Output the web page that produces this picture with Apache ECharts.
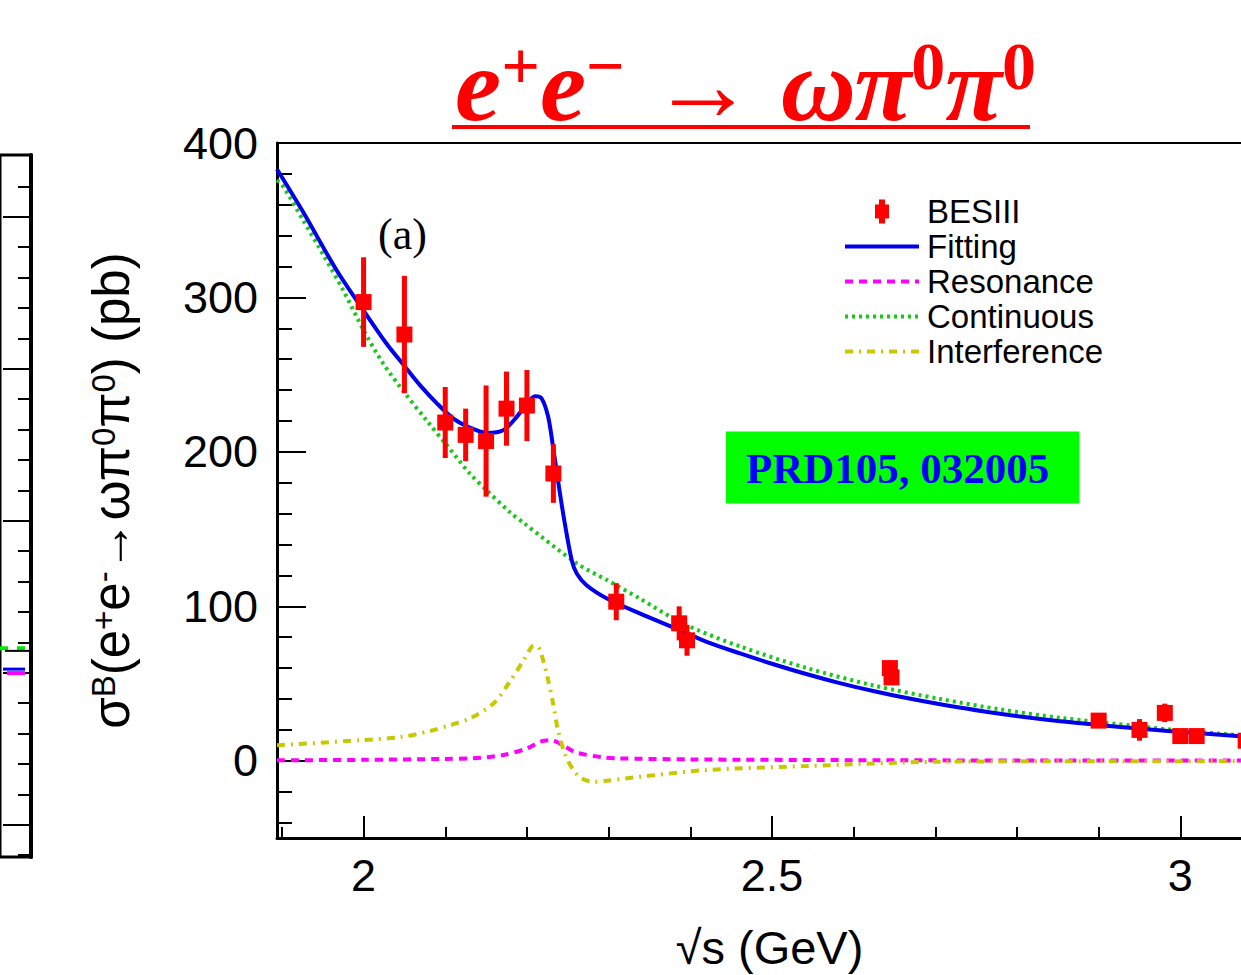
<!DOCTYPE html>
<html>
<head>
<meta charset="utf-8">
<script src="https://cdn.jsdelivr.net/npm/echarts@6/dist/echarts.min.js"></script>
<style>
html,body{margin:0;padding:0;background:#fff;overflow:hidden;}
#chart{width:1241px;height:975px;}
</style>
</head>
<body>
<div id="chart"></div>
<script>
// ---- data ----
const besX   = [2.0, 2.05, 2.1, 2.125, 2.15, 2.175, 2.2, 2.2324, 2.3094, 2.3864, 2.396, 2.6444, 2.6464, 2.9, 2.95, 2.981, 3.0, 3.02, 3.08];
const besY   = [297, 276, 219, 211, 207, 228, 230, 186, 103, 89, 78, 60, 54, 26, 20, 31, 16, 16, 13];
const besErr = [29, 38, 23, 17, 36, 24, 23, 19, 12, 11, 10, 5, 5, 2, 7, 6, 2, 2, 3];

const fitX = [1.894, 1.926, 1.967, 2.002, 2.028, 2.051, 2.069, 2.090, 2.110, 2.130, 2.151, 2.171, 2.1875, 2.200, 2.210, 2.218, 2.226, 2.232, 2.238, 2.245, 2.2548, 2.261, 2.273, 2.298, 2.338, 2.387, 2.420, 2.461, 2.502, 2.543, 2.583, 2.624, 2.665, 2.706, 2.779, 2.853, 2.948, 3.000, 3.073, 3.100];
const fitY = [383, 355.3, 317.6, 290, 270.2, 255, 243.2, 231.3, 221.6, 215.8, 212.3, 214, 222.7, 231.3, 236, 234.6, 222.7, 203.2, 181.7, 158, 130, 121.3, 113.7, 105.1, 95.4, 84.6, 77, 69.5, 62.5, 56.0, 50.3, 45.2, 40.6, 36.6, 30.4, 25.6, 20.9, 18.7, 15.9, 14.9];

const contX = [1.894, 1.902, 1.926, 1.951, 1.975, 2.000, 2.024, 2.051, 2.077, 2.102, 2.130, 2.151, 2.179, 2.196, 2.261, 2.298, 2.338, 2.391, 2.461, 2.543, 2.624, 2.706, 2.780, 2.853, 2.950, 3.000, 3.073, 3.100];
const contY = [376, 371.5, 350, 327.3, 304.7, 278.8, 257.2, 237.8, 220.5, 204.3, 186, 175, 161, 154, 127.8, 117, 105.1, 88.9, 74.0, 60.0, 48.8, 40.0, 33.2, 27.8, 22.3, 19.6, 16.6, 15.6];

const resX = [1.894, 2.0, 2.1, 2.134, 2.171, 2.2, 2.216, 2.230, 2.247, 2.261, 2.294, 2.31, 2.4, 2.6, 2.8, 3.1];
const resY = [0.3, 0.6, 1.2, 1.6, 3.7, 8, 12.3, 13.4, 9.1, 5.2, 2.2, 1.6, 0.9, 0.4, 0.2, 0.1];

const intX = [1.894, 1.998, 2.045, 2.081, 2.106, 2.130, 2.159, 2.179, 2.196, 2.206, 2.211, 2.216, 2.225, 2.232, 2.238, 2.247, 2.257, 2.267, 2.283, 2.298, 2.338, 2.420, 2.543, 2.706, 2.900, 3.100];
const intY = [10, 13.4, 15.3, 19.2, 23.1, 27.4, 37.1, 51.1, 65.2, 73.8, 74.5, 71.7, 54.4, 37.2, 19.9, 3.7, -6, -11.4, -13.6, -12.9, -10.4, -6, -3.4, -0.6, -0.3, -0.2];

// tick values
const xMajorTicks = [2, 2.5, 3];
const xMinorTicks = [1.9, 2.1, 2.2, 2.3, 2.4, 2.6, 2.7, 2.8, 2.9, 3.1];
const yMajorTicks = [0, 100, 200, 300, 400];
const yMinorTicks = [-40, -20, 20, 40, 60, 80, 120, 140, 160, 180, 220, 240, 260, 280, 320, 340, 360, 380];

// partially visible neighbouring panel on the left edge
const sideMajorTicks = [0, 5, 10, 15, 20];
const sideMinorTicks = [-1, 1, 2, 3, 4, 6, 7, 8, 9, 11, 12, 13, 14, 16, 17, 18, 19, 21];
const sideGreenX = [0, 25], sideGreenY = [5.81, 5.81];
const sideBlackX = [5, 30], sideBlackY = [5.72, 5.72];
const sideBlueX = [3, 25], sideBlueY = [5.12, 5.12];
const sideMagX = [7, 25], sideMagY = [4.99, 4.99];

const zip = (a, b) => a.map((v, i) => [v, b[i]]);

const chart = echarts.init(document.getElementById('chart'), null, {renderer: 'svg'});
const SANS = 'Liberation Sans, Arial, Helvetica, sans-serif';
const SERIF = 'Liberation Serif, Times New Roman, serif';

const option = {
  backgroundColor: '#fff',
  animation: false,
  title: [
    {
      text: '{i|e}{s|+}{i|e}{s|−}{i| → ωπ}{s|0}{i|π}{s|0}',
      left: 450, top: 27,
      textStyle: {
        rich: {
          i: {fontFamily: SERIF, fontStyle: 'italic', fontWeight: 'bold', fontSize: 104, color: '#ff0000', verticalAlign: 'bottom', lineHeight: 104},
          s: {fontFamily: SERIF, fontWeight: 'bold', fontSize: 68, color: '#ff0000', verticalAlign: 'top', lineHeight: 68}
        }
      }
    },
    {
      text: 'PRD105, 032005',
      left: 726, top: 432,
      backgroundColor: '#00ff00',
      padding: [15, 30, 14, 20],
      textStyle: {fontFamily: SERIF, fontWeight: 'bold', fontSize: 43, color: '#0000ff', lineHeight: 42}
    }
  ],
  graphic: [
    {type: 'rect', left: 452, top: 125, shape: {width: 578, height: 4}, style: {fill: '#ff0000'}},
    {type: 'text', left: 378, top: 212, style: {text: '(a)', font: '44px ' + SERIF, fill: '#000'}}
  ],
  legend: {
    orient: 'vertical', left: 838, top: 190,
    itemWidth: 74, itemHeight: 24, itemGap: 2,
    textStyle: {fontFamily: SANS, fontSize: 33, color: '#000', lineHeight: 33, padding: [0, 0, 0, 3]},
    lineStyle: {width: 4},
    itemStyle: {opacity: 0},
    data: [
      {name: 'BESIII', icon: 'path://M4,0H10V5H14V19H10V24H4V19H0V5H4Z', itemStyle: {opacity: 1, color: '#ff0000'}},
      'Fitting', 'Resonance', 'Continuous', 'Interference'
    ]
  },
  grid: [
    {left: 277, top: 143, width: 985, height: 695, outerBoundsMode: 'none', show: true, borderColor: '#000', borderWidth: 2, backgroundColor: 'transparent'},
    {left: 0, top: 155, width: 31, height: 702, outerBoundsMode: 'none', show: true, borderColor: '#000', borderWidth: 3, backgroundColor: 'transparent'}
  ],
  xAxis: [
    {
      type: 'value', gridIndex: 0, min: 1.894, max: 3.1, position: 'bottom',
      name: '√s (GeV)', nameLocation: 'middle', nameGap: 86,
      nameTextStyle: {fontFamily: SANS, fontSize: 47, color: '#000'},
      axisLine: {show: true, onZero: false, lineStyle: {color: '#000', width: 3}},
      axisTick: {show: true, inside: true, length: 22, customValues: xMajorTicks, lineStyle: {color: '#000', width: 2}},
      axisLabel: {show: true, customValues: xMajorTicks, margin: 15, fontFamily: SANS, fontSize: 45, color: '#000', formatter: v => String(v)},
      splitLine: {show: false}
    },
    {
      type: 'value', gridIndex: 0, min: 1.894, max: 3.1, position: 'bottom',
      axisLine: {show: false, onZero: false},
      axisTick: {show: true, inside: true, length: 11, customValues: xMinorTicks, lineStyle: {color: '#000', width: 2}},
      axisLabel: {show: false},
      splitLine: {show: false}
    },
    {type: 'value', gridIndex: 1, min: 0, max: 31, show: false}
  ],
  yAxis: [
    {
      type: 'value', gridIndex: 0, min: -50, max: 400, position: 'left',
      name: '{m|σ}{s|B}{m|(e}{s|+}{m|e}{s|-}{m|→ωπ}{s|0}{m|π}{s|0}{m|) (pb)}',
      nameLocation: 'middle', nameRotate: 90, nameGap: 140,
      nameTextStyle: {
        rich: {
          m: {fontFamily: SANS, fontSize: 51, color: '#000', verticalAlign: 'bottom', lineHeight: 50},
          s: {fontFamily: SANS, fontSize: 33, color: '#000', verticalAlign: 'top', lineHeight: 33}
        }
      },
      axisLine: {show: true, onZero: false, lineStyle: {color: '#000', width: 3}},
      axisTick: {show: true, inside: true, length: 29, customValues: yMajorTicks, lineStyle: {color: '#000', width: 2}},
      axisLabel: {show: true, customValues: yMajorTicks, margin: 19, fontFamily: SANS, fontSize: 45, color: '#000'},
      splitLine: {show: false}
    },
    {
      type: 'value', gridIndex: 0, min: -50, max: 400, position: 'left',
      axisLine: {show: false, onZero: false},
      axisTick: {show: true, inside: true, length: 15, customValues: yMinorTicks, lineStyle: {color: '#000', width: 2}},
      axisLabel: {show: false},
      splitLine: {show: false}
    },
    {
      type: 'value', gridIndex: 1, min: -1.06, max: 22.03, position: 'right',
      axisLine: {show: true, onZero: false, lineStyle: {color: '#000', width: 4}},
      axisTick: {show: true, inside: true, length: 28, customValues: sideMajorTicks, lineStyle: {color: '#000', width: 2}},
      axisLabel: {show: false}, splitLine: {show: false}
    },
    {
      type: 'value', gridIndex: 1, min: -1.06, max: 22.03, position: 'right',
      axisLine: {show: false, onZero: false},
      axisTick: {show: true, inside: true, length: 13, customValues: sideMinorTicks, lineStyle: {color: '#000', width: 2}},
      axisLabel: {show: false}, splitLine: {show: false}
    }
  ],
  series: [
    {name: 'Continuous', type: 'line', xAxisIndex: 0, yAxisIndex: 0, data: zip(contX, contY), symbol: 'none', smooth: 0.3, z: 2,
     lineStyle: {color: '#19c819', width: 4, type: [3, 4]}, itemStyle: {color: '#19c819'}},
    {name: 'Resonance', type: 'line', xAxisIndex: 0, yAxisIndex: 0, data: zip(resX, resY), symbol: 'none', smooth: 0.3, z: 2,
     lineStyle: {color: '#ff00ff', width: 4, type: [8, 6]}, itemStyle: {color: '#ff00ff'}},
    {name: 'Interference', type: 'line', xAxisIndex: 0, yAxisIndex: 0, data: zip(intX, intY), symbol: 'none', smooth: 0.3, z: 2,
     lineStyle: {color: '#c8c800', width: 4, type: [8, 6, 2, 6]}, itemStyle: {color: '#c8c800'}},
    {name: 'Fitting', type: 'line', xAxisIndex: 0, yAxisIndex: 0, data: zip(fitX, fitY), symbol: 'none', smooth: 0.3, z: 3,
     lineStyle: {color: '#0000ee', width: 4}, itemStyle: {color: '#0000ee'}},
    {
      name: 'BESIII', type: 'custom', xAxisIndex: 0, yAxisIndex: 0, z: 5,
      data: besX.map((x, i) => [x, besY[i], besErr[i]]),
      encode: {x: 0, y: 1},
      itemStyle: {color: '#ff0000'},
      renderItem: function (params, api) {
        const x = api.value(0), y = api.value(1), e = api.value(2);
        const c = api.coord([x, y]);
        const t = api.coord([x, y + e]);
        const b = api.coord([x, y - e]);
        return {
          type: 'group',
          children: [
            {type: 'rect', shape: {x: c[0] - 2.5, y: t[1], width: 5, height: b[1] - t[1]}, style: {fill: '#ff0000'}},
            {type: 'rect', shape: {x: c[0] - 8, y: c[1] - 8, width: 16, height: 16}, style: {fill: '#ff0000'}}
          ]
        };
      }
    },
    // side panel fragments
    {type: 'line', xAxisIndex: 2, yAxisIndex: 2, data: zip(sideGreenX, sideGreenY), symbol: 'none', silent: true,
     lineStyle: {color: '#00ee00', width: 4, type: [8, 9]}},
    {type: 'line', xAxisIndex: 2, yAxisIndex: 2, data: zip(sideBlackX, sideBlackY), symbol: 'none', silent: true,
     lineStyle: {color: '#000', width: 2}},
    {type: 'line', xAxisIndex: 2, yAxisIndex: 2, data: zip(sideBlueX, sideBlueY), symbol: 'none', silent: true,
     lineStyle: {color: '#0000ff', width: 3}},
    {type: 'line', xAxisIndex: 2, yAxisIndex: 2, data: zip(sideMagX, sideMagY), symbol: 'none', silent: true,
     lineStyle: {color: '#ff00ff', width: 4}}
  ]
};
chart.setOption(option);
</script>
</body>
</html>
